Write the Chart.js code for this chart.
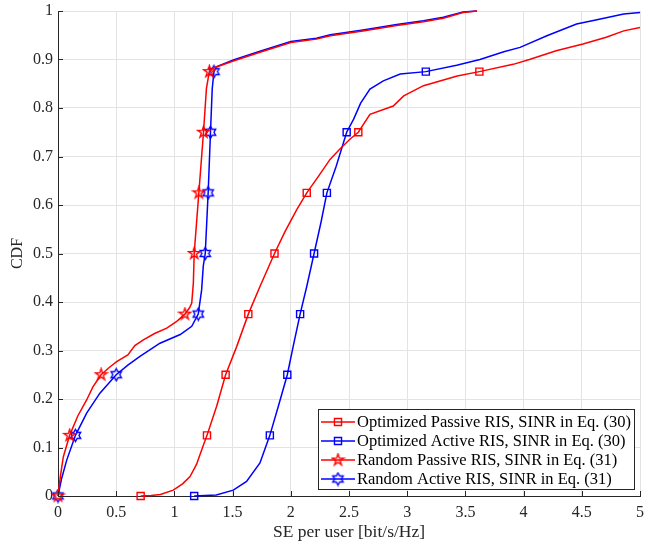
<!DOCTYPE html>
<html>
<head>
<meta charset="utf-8">
<script src="https://cdn.jsdelivr.net/npm/chart.js@4/dist/chart.umd.min.js"></script>
<style>
  html, body { margin: 0; padding: 0; background: #fff; }
  #c { display: block; }
</style>
</head>
<body>
<canvas id="c" width="651" height="541"></canvas>
<script>
// Empirical CDFs of the per-user spectral efficiency (bit/s/Hz)
const optPassiveSE  = [0.71, 0.80, 0.88, 0.99, 1.07, 1.134, 1.19, 1.234, 1.28, 1.363, 1.44, 1.535, 1.635, 1.735, 1.86, 1.95, 2.05, 2.137, 2.24, 2.337, 2.42, 2.51, 2.58, 2.68, 2.88, 2.97, 3.14, 3.43, 3.62, 3.91, 4.05, 4.28, 4.51, 4.71, 4.86, 5.0];
const optPassiveCDF = [0, 0.001, 0.003, 0.012, 0.025, 0.04, 0.065, 0.095, 0.125, 0.185, 0.25, 0.308, 0.375, 0.432, 0.5, 0.545, 0.59, 0.625, 0.66, 0.694, 0.715, 0.736, 0.75, 0.787, 0.804, 0.825, 0.846, 0.866, 0.875, 0.89, 0.90, 0.918, 0.932, 0.946, 0.959, 0.966];

const optActiveSE  = [1.17, 1.36, 1.506, 1.62, 1.735, 1.82, 1.893, 1.97, 2.02, 2.08, 2.137, 2.20, 2.26, 2.31, 2.39, 2.48, 2.54, 2.60, 2.68, 2.795, 2.94, 3.16, 3.425, 3.625, 3.83, 3.97, 4.2, 4.455, 4.63, 4.86, 5.0];
const optActiveCDF = [0, 0.002, 0.012, 0.03, 0.068, 0.125, 0.185, 0.25, 0.308, 0.375, 0.432, 0.5, 0.565, 0.625, 0.68, 0.75, 0.777, 0.81, 0.839, 0.856, 0.87, 0.875, 0.888, 0.90, 0.916, 0.925, 0.949, 0.973, 0.982, 0.994, 0.997];

const randPassiveSE  = [0, 0.02, 0.046, 0.10, 0.17, 0.246, 0.30, 0.37, 0.44, 0.504, 0.60, 0.66, 0.733, 0.83, 0.934, 1.02, 1.09, 1.13, 1.149, 1.163, 1.17, 1.21, 1.25, 1.275, 1.30, 1.33, 1.506, 1.735, 2.0, 2.22, 2.34, 2.62, 2.91, 3.14, 3.31, 3.48, 3.6];
const randPassiveCDF = [0, 0.04, 0.081, 0.125, 0.165, 0.198, 0.225, 0.25, 0.265, 0.277, 0.291, 0.31, 0.322, 0.335, 0.346, 0.36, 0.375, 0.388, 0.398, 0.44, 0.5, 0.625, 0.75, 0.84, 0.875, 0.882, 0.897, 0.915, 0.935, 0.942, 0.949, 0.959, 0.970, 0.978, 0.985, 0.997, 1.0];

const randActiveSE  = [0, 0.03, 0.075, 0.15, 0.246, 0.36, 0.5, 0.60, 0.704, 0.876, 1.05, 1.149, 1.205, 1.234, 1.248, 1.265, 1.29, 1.31, 1.325, 1.34, 1.36, 1.506, 1.735, 2.0, 2.22, 2.34, 2.62, 2.91, 3.14, 3.31, 3.48, 3.6];
const randActiveCDF = [0, 0.035, 0.074, 0.125, 0.171, 0.212, 0.25, 0.27, 0.288, 0.315, 0.333, 0.35, 0.375, 0.425, 0.474, 0.5, 0.625, 0.75, 0.84, 0.875, 0.885, 0.899, 0.917, 0.937, 0.944, 0.951, 0.961, 0.972, 0.980, 0.987, 0.998, 1.0];

const seriesLabels = [
  'Optimized Passive RIS, SINR in Eq. (30)',
  'Optimized Active RIS, SINR in Eq. (30)',
  'Random Passive RIS, SINR in Eq. (31)',
  'Random Active RIS, SINR in Eq. (31)'
];

// CDF levels at which a marker is placed on each curve
const markerLevels = [0, 0.125, 0.25, 0.375, 0.5, 0.625, 0.75, 0.875];

const xTickValues = [0, 0.5, 1, 1.5, 2, 2.5, 3, 3.5, 4, 4.5, 5];
const yTickValues = [0, 0.1, 0.2, 0.3, 0.4, 0.5, 0.6, 0.7, 0.8, 0.9, 1];

const RED = '#ff0000';
const BLUE = '#0000ff';
const FONT = '"Liberation Serif", "Times New Roman", serif';
const TEXT = '#262626';

// Outline star markers (pentagram / hexagram) drawn on small canvases
function starMarker(color, points, innerRatio) {
  const s = 15, c = s / 2, R = 6;
  const cv = document.createElement('canvas');
  cv.width = s; cv.height = s;
  const g = cv.getContext('2d');
  g.strokeStyle = color;
  g.lineWidth = 1.4;
  g.beginPath();
  for (let i = 0; i < points * 2; i++) {
    const r = i % 2 === 0 ? R : R * innerRatio;
    const a = -Math.PI / 2 + i * Math.PI / points;
    const px = c + r * Math.cos(a), py = c + r * Math.sin(a);
    if (i === 0) g.moveTo(px, py); else g.lineTo(px, py);
  }
  g.closePath();
  g.stroke();
  return cv;
}
const pentagram = starMarker(RED, 5, 0.382);
const hexagram = starMarker(BLUE, 6, 0.577);

function toPoints(xs, ys) {
  return xs.map((v, i) => ({ x: v, y: ys[i] }));
}

function markerRadius(ctx) {
  const d = ctx.dataset.data;
  const i = ctx.dataIndex;
  const p = d[i];
  if (!p) return 0;
  if (!markerLevels.includes(p.y)) return 0;
  // only the first point reaching a level carries the marker
  for (let k = 0; k < i; k++) if (d[k].y === p.y) return 0;
  return 5;
}

function series(label, xs, ys, color, style) {
  return {
    label,
    data: toPoints(xs, ys),
    borderColor: color,
    backgroundColor: 'rgba(0,0,0,0)',
    borderWidth: 1.5,
    pointStyle: style,
    pointRadius: markerRadius,
    pointBorderColor: color,
    pointBorderWidth: 1.4,
    pointBackgroundColor: 'rgba(0,0,0,0)',
    tension: 0,
    clip: 10
  };
}

const datasets = [
  series(seriesLabels[0], optPassiveSE, optPassiveCDF, RED, 'rect'),
  series(seriesLabels[1], optActiveSE, optActiveCDF, BLUE, 'rect'),
  series(seriesLabels[2], randPassiveSE, randPassiveCDF, RED, pentagram),
  series(seriesLabels[3], randActiveSE, randActiveCDF, BLUE, hexagram)
];

// Small tick marks pointing into the plot area
const innerTicks = {
  id: 'innerTicks',
  afterDatasetsDraw(chart) {
    const { ctx, chartArea: a, scales: { x, y } } = chart;
    ctx.save();
    ctx.strokeStyle = TEXT;
    ctx.lineWidth = 1;
    ctx.beginPath();
    x.ticks.forEach(t => {
      const px = Math.round(x.getPixelForValue(t.value)) + 0.5;
      ctx.moveTo(px, a.bottom);
      ctx.lineTo(px, a.bottom - 5);
    });
    y.ticks.forEach(t => {
      const py = Math.round(y.getPixelForValue(t.value)) + 0.5;
      ctx.moveTo(a.left, py);
      ctx.lineTo(a.left + 5, py);
    });
    ctx.stroke();
    ctx.restore();
  }
};

// Boxed legend in the lower right corner of the plot area
const boxLegend = {
  id: 'boxLegend',
  afterDraw(chart) {
    const { ctx } = chart;
    const bx = 318.5, by = 409.5, bw = 316, bh = 80;
    ctx.save();
    ctx.fillStyle = '#fff';
    ctx.fillRect(bx, by, bw, bh);
    ctx.strokeStyle = '#262626';
    ctx.lineWidth = 1;
    ctx.strokeRect(bx, by, bw, bh);
    ctx.font = '16.5px ' + FONT;
    ctx.textBaseline = 'middle';
    ctx.textAlign = 'left';
    chart.data.datasets.forEach((ds, i) => {
      const cy = 422 + i * 19;
      ctx.strokeStyle = ds.borderColor;
      ctx.lineWidth = 1.5;
      ctx.beginPath();
      ctx.moveTo(321, cy);
      ctx.lineTo(355, cy);
      ctx.stroke();
      ctx.strokeStyle = ds.pointBorderColor;
      ctx.fillStyle = 'rgba(0,0,0,0)';
      ctx.lineWidth = 1.4;
      Chart.helpers.drawPoint(ctx, { pointStyle: ds.pointStyle, radius: 5, rotation: 0, borderWidth: 1.4 }, 338, cy);
      ctx.fillStyle = '#000';
      ctx.fillText(ds.label, 357, cy + 1);
    });
    ctx.restore();
  }
};

new Chart(document.getElementById('c'), {
  type: 'line',
  data: { datasets },
  plugins: [innerTicks, boxLegend],
  options: {
    responsive: false,
    animation: false,
    events: [],
    layout: { padding: { top: 11, right: 11, left: 0, bottom: 0 } },
    plugins: { legend: { display: false }, tooltip: { enabled: false } },
    scales: {
      x: {
        type: 'linear',
        min: 0, max: 5,
        afterBuildTicks: s => { s.ticks = xTickValues.map(v => ({ value: v })); },
        afterFit: s => { s.height = 45; s.paddingLeft = 0; s.paddingRight = 0; },
        grid: { color: '#e3e3e3', lineWidth: 1, drawTicks: false },
        border: { color: TEXT, width: 1 },
        ticks: {
          padding: 7,
          color: TEXT,
          font: { family: FONT, size: 16 },
          maxRotation: 0,
          autoSkip: false,
          callback: v => String(v)
        },
        title: {
          display: true,
          text: 'SE per user [bit/s/Hz]',
          color: TEXT,
          font: { family: FONT, size: 17.5, lineHeight: 1.0 },
          padding: { top: 0, bottom: 0 }
        }
      },
      y: {
        type: 'linear',
        min: 0, max: 1,
        afterBuildTicks: s => { s.ticks = yTickValues.map(v => ({ value: v })); },
        afterFit: s => { s.width = 58; s.paddingTop = 0; s.paddingBottom = 0; },
        grid: { color: '#e3e3e3', lineWidth: 1, drawTicks: false },
        border: { color: TEXT, width: 1 },
        ticks: {
          padding: 5,
          color: TEXT,
          font: { family: FONT, size: 16 },
          autoSkip: false,
          callback: v => String(v)
        },
        title: {
          display: true,
          text: 'CDF',
          color: TEXT,
          font: { family: FONT, size: 16, lineHeight: 1.2 },
          padding: { top: 8, bottom: 0 }
        }
      }
    }
  }
});
</script>
</body>
</html>
